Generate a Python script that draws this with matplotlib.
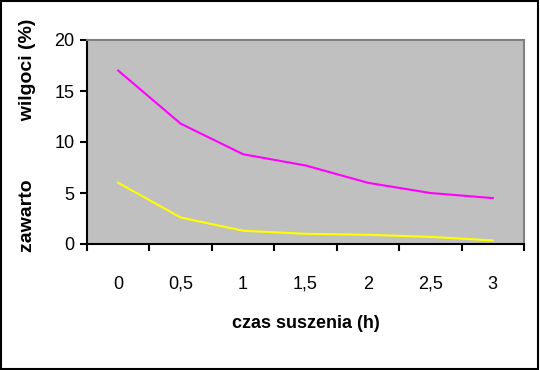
import matplotlib.pyplot as plt
import matplotlib.patches as mpatches
import numpy as np

# drying time categories (h) and moisture content (%)
czas = ["0", "0,5", "1", "1,5", "2", "2,5", "3"]
seria_1 = [17.0, 11.8, 8.8, 7.7, 6.0, 5.0, 4.5]
seria_2 = [6.0, 2.6, 1.3, 1.0, 0.9, 0.7, 0.35]

plt.rcParams['font.family'] = ['Liberation Sans', 'DejaVu Sans']

fig = plt.figure(figsize=(5.4, 3.7), dpi=100)
fig.patches.append(mpatches.Rectangle((0.002, 0.003), 0.995, 0.994, transform=fig.transFigure,
                                      fill=False, edgecolor='black', linewidth=1.5))

ax = fig.add_axes([87 / 540, 1 - 244 / 370, (524 - 87) / 540, (244 - 40) / 370])
ax.set_facecolor('#C0C0C0')

x = np.arange(len(czas))
ax.plot(x, seria_1, color='#FF00FF', linewidth=1.5)
ax.plot(x, seria_2, color='#FFFF00', linewidth=1.5)

ax.set_xlim(-0.5, len(czas) - 0.5)
ax.set_ylim(0, 20)
ax.set_yticks([0, 5, 10, 15, 20])
ax.set_xticks(np.arange(-0.5, len(czas), 1.0))
ax.set_xticklabels([])
ax.set_xticks(x, minor=True)
ax.set_xticklabels(czas, minor=True)
ax.tick_params(axis='x', which='minor', length=0, pad=23, labelsize=13)
ax.tick_params(axis='x', which='major', length=5, width=1.5, direction='out')
ax.tick_params(axis='y', length=5, width=1.5, direction='out', labelsize=13, pad=4)

for side in ['top', 'right']:
    ax.spines[side].set_color('#808080')
    ax.spines[side].set_linewidth(1.5)
for side in ['left', 'bottom']:
    ax.spines[side].set_color('black')
    ax.spines[side].set_linewidth(1.5)

ax.set_xlabel("czas suszenia (h)", fontsize=13, fontweight='bold', labelpad=16)
fig.text(28 / 540, 1 - 135 / 370, "zawarto" + " " * 11 + "wilgoci (%)",
         rotation=90, ha='center', va='center', fontsize=14, fontweight='bold')

fig.savefig('out.png', dpi=100)
